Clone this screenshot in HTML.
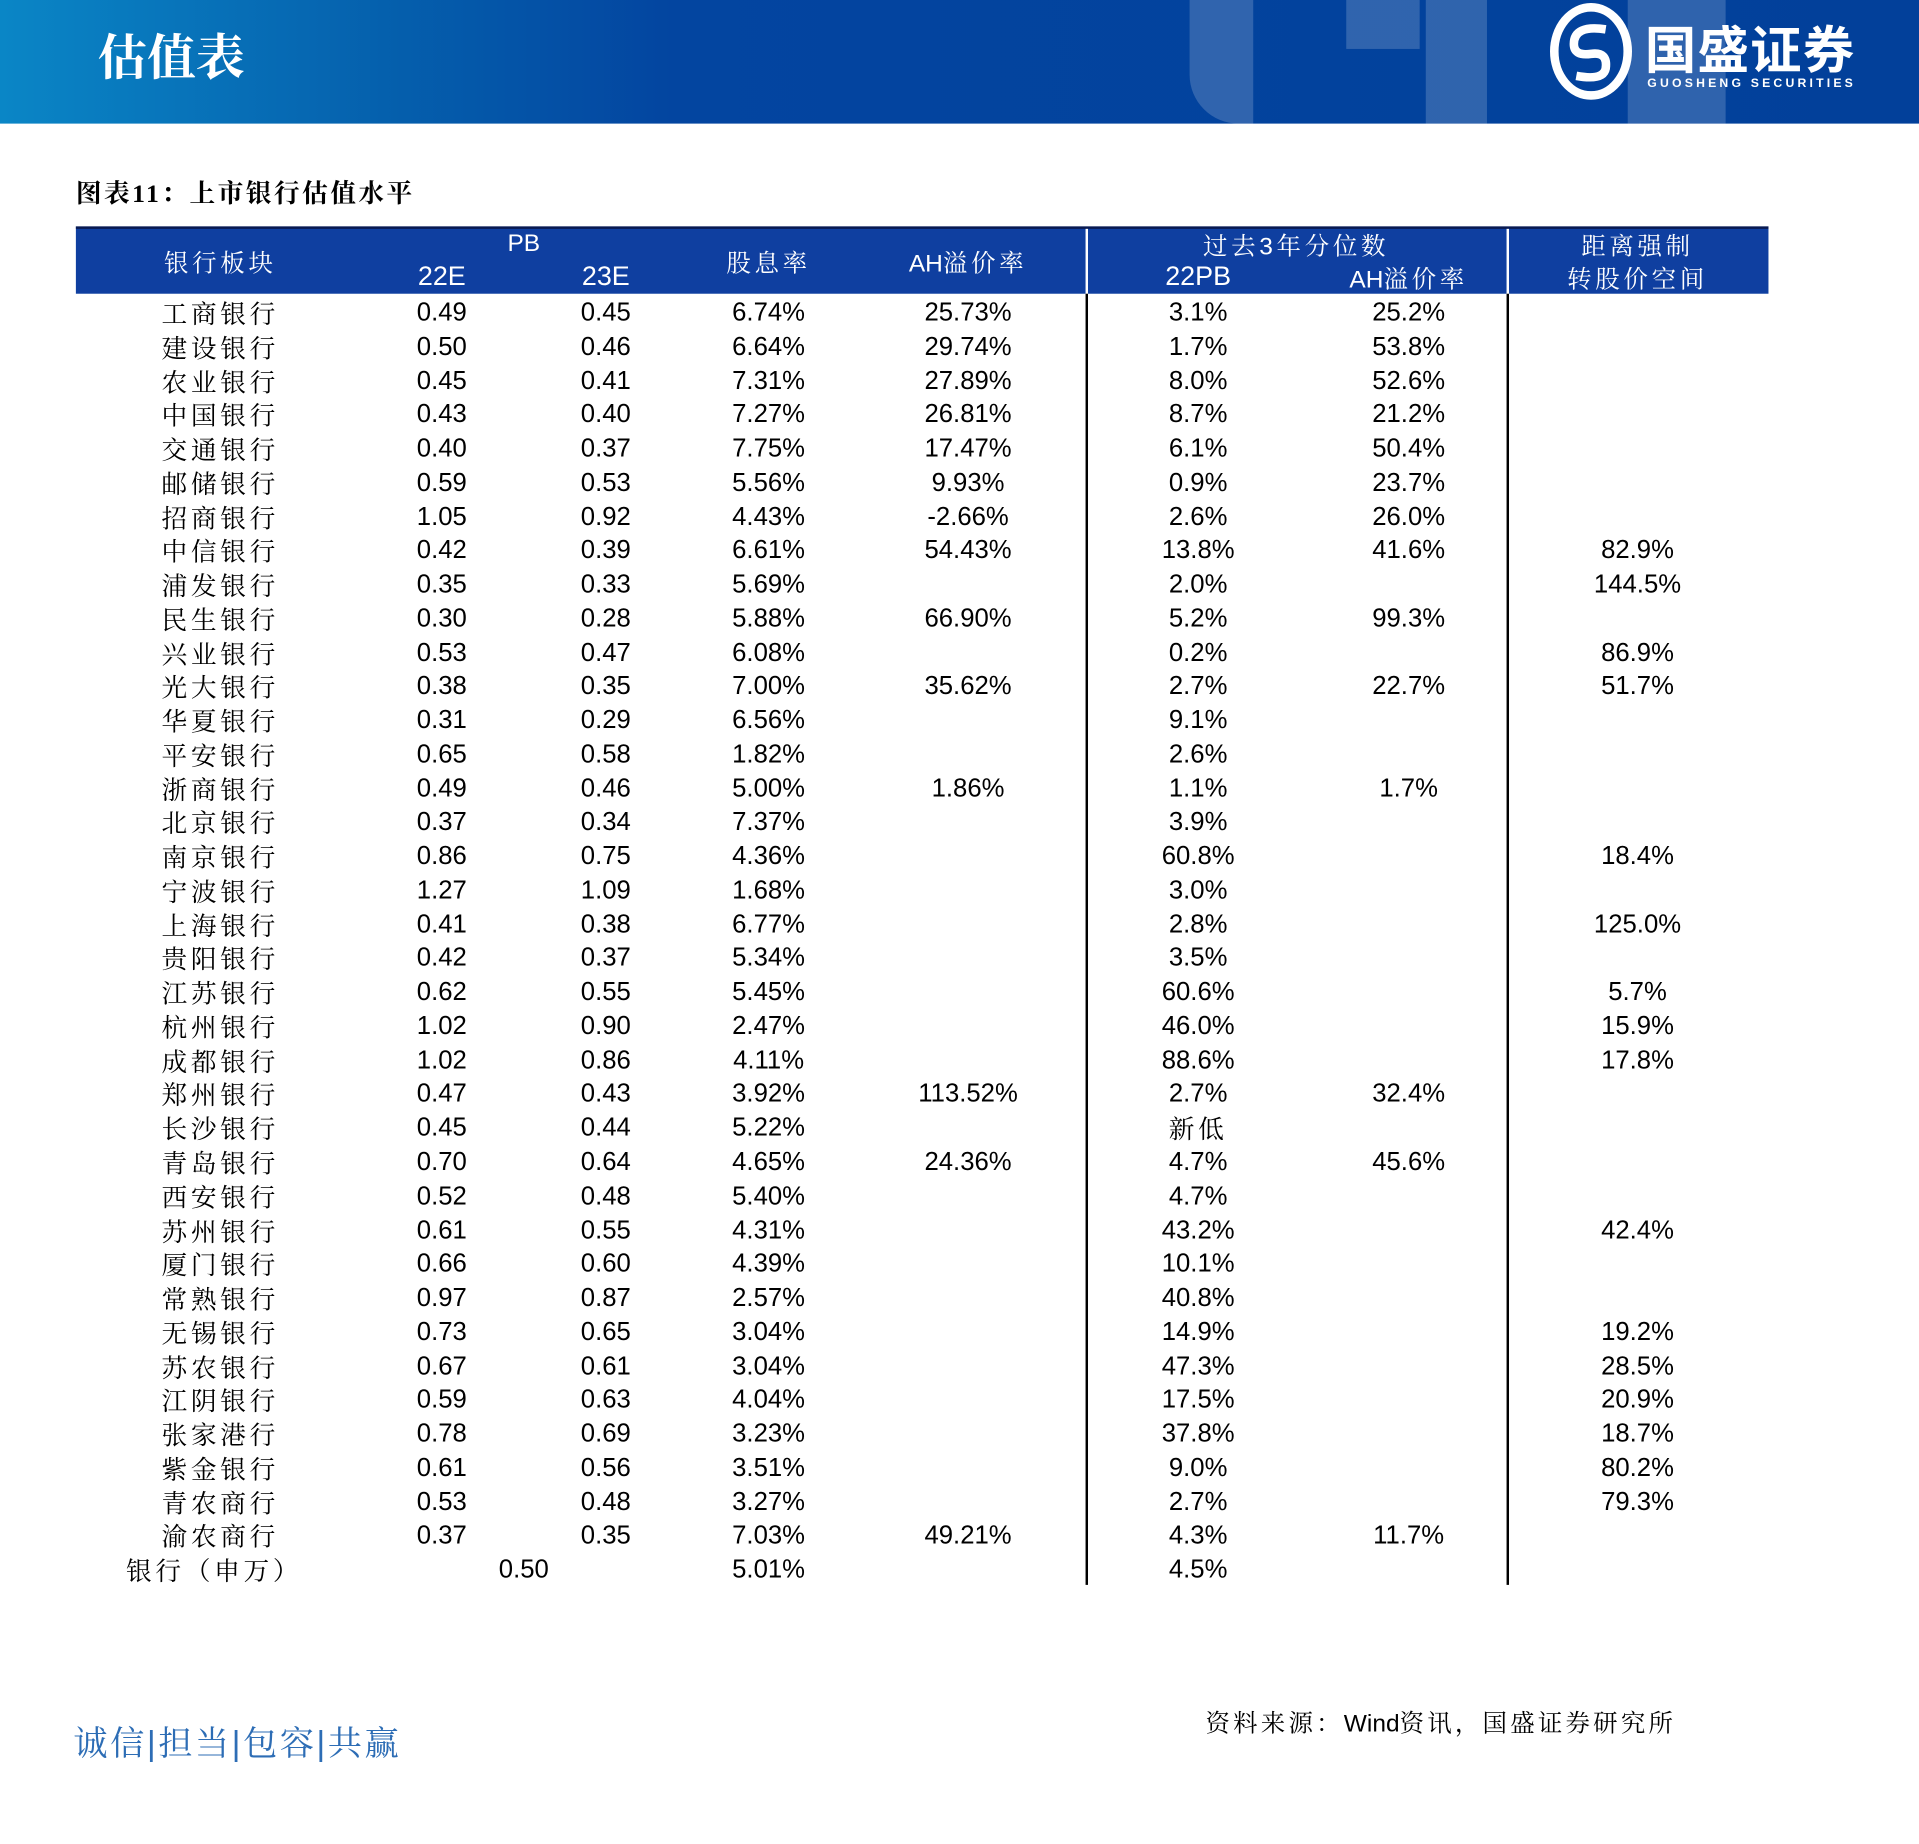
<!DOCTYPE html>
<html><head><meta charset="utf-8">
<style>
html,body{margin:0;padding:0;background:#fff;}
body{width:1919px;height:1844px;overflow:hidden;position:relative;}
#wrap{position:absolute;left:0;top:0;width:1568px;height:1507px;transform:scale(1.22385);transform-origin:0 0;font-family:"Liberation Sans","Noto Sans CJK SC",sans-serif;}
.abs{position:absolute;}
#band{left:0;top:0;width:1568px;height:101px;background:linear-gradient(90deg,#0a86c6 0%,#0560ad 20%,#0345a0 35%,#02409a 100%);overflow:hidden;}
.deco{position:absolute;background:rgba(255,255,255,0.18);}
#title{left:80px;top:16px;color:#fff;font-size:40px;font-weight:bold;font-family:"Noto Serif CJK SC",serif;}
#cap{left:62px;top:142px;font-size:21px;font-weight:bold;font-family:"Liberation Serif","Noto Serif CJK SC",serif;letter-spacing:2px;}
#thead{left:62px;top:185px;width:1383px;height:55px;background:#0f3fa0;border-top:2px solid #0a1a50;box-sizing:border-box;}
.hd{position:absolute;color:#fff;font-size:20px;transform:translateX(-50%);white-space:nowrap;}
.cjk{font-family:"Liberation Sans","Noto Serif CJK SC",serif;letter-spacing:3px;}
.cell{position:absolute;font-size:21px;transform:translate(-50%,-50%);white-space:nowrap;color:#000;}
.vline{position:absolute;width:1.5px;background:#000;}
</style></head><body>
<div id="wrap">
<div id="band" class="abs">
  <div class="deco" style="left:972px;top:0;width:52px;height:101px;border-radius:0 0 0 40px;"></div>
  <div class="deco" style="left:1100px;top:0;width:60px;height:40px;"></div>
  <div class="deco" style="left:1165px;top:0;width:50px;height:101px;"></div>
  <div class="deco" style="left:1330px;top:0;width:80px;height:101px;"></div>
  <div id="title" class="abs">估值表</div>
  <svg class="abs" style="left:1266px;top:2px" width="68" height="80">
    <ellipse cx="34" cy="40" rx="30" ry="36" fill="none" stroke="#fff" stroke-width="7"/>
    <path d="M46 22 Q20 18 20 34 Q20 44 34 42 Q48 40 46 54 Q44 64 22 60" fill="none" stroke="#fff" stroke-width="7"/>
  </svg>
  <div class="abs" style="left:1344px;top:8px;color:#fff;font-size:42px;font-weight:bold;font-family:'Noto Sans CJK SC',sans-serif;letter-spacing:1px;">国盛证券</div>
  <div class="abs" style="left:1346px;top:63px;color:#fff;font-size:10px;letter-spacing:2.6px;font-weight:bold;">GUOSHENG SECURITIES</div>
</div>
<div id="cap" class="abs">图表11：上市银行估值水平</div>
<div id="thead" class="abs">
  <div class="abs" style="left:825px;top:0;width:1.5px;height:55px;background:#fff;"></div>
  <div class="abs" style="left:1169px;top:0;width:1.5px;height:55px;background:#fff;"></div>
  <div class="hd cjk" style="left:118px;top:12px">银行板块</div>
  <div class="hd" style="left:366px;top:1px">PB</div>
  <div class="hd" style="left:299px;top:26px;font-size:22px">22E</div>
  <div class="hd" style="left:433px;top:26px;font-size:22px">23E</div>
  <div class="hd cjk" style="left:566px;top:12px">股息率</div>
  <div class="hd cjk" style="left:729px;top:12px"><span style="letter-spacing:0">AH</span>溢价率</div>
  <div class="hd cjk" style="left:997px;top:-2px">过去3年分位数</div>
  <div class="hd" style="left:917px;top:26px;font-size:22px">22PB</div>
  <div class="hd cjk" style="left:1089px;top:25px"><span style="letter-spacing:0">AH</span>溢价率</div>
  <div class="hd cjk" style="left:1276px;top:-2px">距离强制</div>
  <div class="hd cjk" style="left:1276px;top:25px">转股价空间</div>
</div>
<div class="vline" style="left:887px;top:240px;height:1055px"></div>
<div class="vline" style="left:1231px;top:240px;height:1055px"></div>
<div id="body"></div>
<div class="abs" style="left:60px;top:1403px;font-size:28px;color:#2d6db5;letter-spacing:2px;font-family:'Liberation Sans','Noto Serif CJK SC',serif;">诚信|担当|包容|共赢</div>
<div class="abs cjk" style="left:985px;top:1392px;font-size:20px;letter-spacing:2.6px;">资料来源：<span style="letter-spacing:0">Wind</span>资讯，国盛证券研究所</div>
</div>
<script>
const banks=["工商银行","建设银行","农业银行","中国银行","交通银行","邮储银行","招商银行","中信银行","浦发银行","民生银行","兴业银行","光大银行","华夏银行","平安银行","浙商银行","北京银行","南京银行","宁波银行","上海银行","贵阳银行","江苏银行","杭州银行","成都银行","郑州银行","长沙银行","青岛银行","西安银行","苏州银行","厦门银行","常熟银行","无锡银行","苏农银行","江阴银行","张家港行","紫金银行","青农商行","渝农商行"];
const pb22=["0.49","0.50","0.45","0.43","0.40","0.59","1.05","0.42","0.35","0.30","0.53","0.38","0.31","0.65","0.49","0.37","0.86","1.27","0.41","0.42","0.62","1.02","1.02","0.47","0.45","0.70","0.52","0.61","0.66","0.97","0.73","0.67","0.59","0.78","0.61","0.53","0.37"];
const pb23=["0.45","0.46","0.41","0.40","0.37","0.53","0.92","0.39","0.33","0.28","0.47","0.35","0.29","0.58","0.46","0.34","0.75","1.09","0.38","0.37","0.55","0.90","0.86","0.43","0.44","0.64","0.48","0.55","0.60","0.87","0.65","0.61","0.63","0.69","0.56","0.48","0.35"];
const divYield=["6.74%","6.64%","7.31%","7.27%","7.75%","5.56%","4.43%","6.61%","5.69%","5.88%","6.08%","7.00%","6.56%","1.82%","5.00%","7.37%","4.36%","1.68%","6.77%","5.34%","5.45%","2.47%","4.11%","3.92%","5.22%","4.65%","5.40%","4.31%","4.39%","2.57%","3.04%","3.04%","4.04%","3.23%","3.51%","3.27%","7.03%"];
const ahPremium=["25.73%","29.74%","27.89%","26.81%","17.47%","9.93%","-2.66%","54.43%","","66.90%","","35.62%","","","1.86%","","","","","","","","","113.52%","","24.36%","","","","","","","","","","","49.21%"];
const pct22pb=["3.1%","1.7%","8.0%","8.7%","6.1%","0.9%","2.6%","13.8%","2.0%","5.2%","0.2%","2.7%","9.1%","2.6%","1.1%","3.9%","60.8%","3.0%","2.8%","3.5%","60.6%","46.0%","88.6%","2.7%","新低","4.7%","4.7%","43.2%","10.1%","40.8%","14.9%","47.3%","17.5%","37.8%","9.0%","2.7%","4.3%"];
const pctAh=["25.2%","53.8%","52.6%","21.2%","50.4%","23.7%","26.0%","41.6%","","99.3%","","22.7%","","","1.7%","","","","","","","","","32.4%","","45.6%","","","","","","","","","","","11.7%"];
const convSpace=["","","","","","","","82.9%","144.5%","","86.9%","51.7%","","","","","18.4%","","125.0%","","5.7%","15.9%","17.8%","","","","","42.4%","","","19.2%","28.5%","20.9%","18.7%","80.2%","79.3%",""];
const total=["银行（申万）","0.50","5.01%","4.5%"];
const colX=[180,361,495,628,791,979,1151,1338];
const y0=256, dy=27.76;
const body=document.getElementById('body');
function addCell(txt,x,y,cls){
  const d=document.createElement('div');
  d.className='cell'+(cls?' '+cls:'');
  d.style.left=x+'px';d.style.top=y+'px';d.textContent=txt;
  
  
  body.appendChild(d);
}
const cols=[banks,pb22,pb23,divYield,ahPremium,pct22pb,pctAh,convSpace];
banks.forEach((b,i)=>{
  const y=y0+i*dy;
  cols.forEach((c,j)=>{ if(c[i]) addCell(c[i],colX[j],y,(j===0||c[i]==='新低')?'cjk':''); });
});
const yl=y0+banks.length*dy;
addCell(total[0],175,yl,'cjk');
addCell(total[1],428,yl);
addCell(total[2],628,yl);
addCell(total[3],979,yl);
</script>
</body></html>
